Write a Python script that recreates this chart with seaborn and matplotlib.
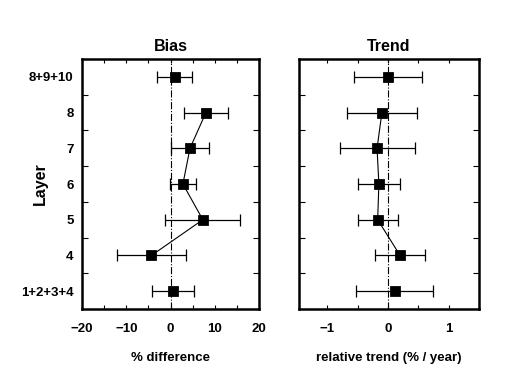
import numpy as np
import pandas as pd
import seaborn as sns
import matplotlib.pyplot as plt
from matplotlib.ticker import MultipleLocator

# layers from bottom to top
layers = ['1+2+3+4', '4', '5', '6', '7', '8', '8+9+10']

bias = [0.6, -4.3, 7.3, 2.8, 4.4, 8.0, 0.9]
bias_err = [4.75, 7.9, 8.5, 3.0, 4.3, 5.0, 3.9]

trend = [0.11, 0.20, -0.17, -0.15, -0.18, -0.10, 0.0]
trend_err = [0.63, 0.41, 0.33, 0.35, 0.62, 0.58, 0.56]

# only the single layers 4..8 are joined by a line
joined = ['4', '5', '6', '7', '8']

sns.set_style('ticks', {'axes.edgecolor': 'black', 'xtick.color': 'black',
                        'ytick.color': 'black', 'text.color': 'black',
                        'axes.labelcolor': 'black'})
plt.rcParams['font.family'] = ['Liberation Sans', 'DejaVu Sans']
plt.rcParams['font.weight'] = 'bold'

df = pd.DataFrame({'layer': layers, 'pos': np.arange(len(layers)),
                   'bias': bias, 'bias_err': bias_err,
                   'trend': trend, 'trend_err': trend_err})
line_df = df[df['layer'].isin(joined)]

fig = plt.figure(figsize=(5.11, 3.9), dpi=100)
ax1 = fig.add_axes([0.1605, 0.2077, 0.3464, 0.641])
ax2 = fig.add_axes([0.585, 0.2077, 0.352, 0.641])


def draw_panel(ax, col, err, title, xlabel, xlim, major, minor):
    ax.axvline(0, color='black', lw=0.8, ls='-.', zorder=1)
    ax.errorbar(df[col], df['pos'], xerr=df[err], fmt='none', ecolor='black',
                elinewidth=0.9, capsize=4, capthick=0.9, zorder=2)
    sns.lineplot(data=line_df, x=col, y='pos', sort=False, estimator=None,
                 color='black', lw=0.8, ax=ax, zorder=3)
    sns.scatterplot(data=df, x=col, y='pos', marker='s', s=50, color='black',
                    edgecolor='black', ax=ax, zorder=4)
    ax.set_xlim(*xlim)
    ax.set_ylim(-0.5, len(layers) - 0.5)
    ax.xaxis.set_major_locator(MultipleLocator(major))
    ax.xaxis.set_minor_locator(MultipleLocator(minor))
    ax.set_yticks(np.arange(len(layers)))
    ax.set_yticks(np.arange(0.5, len(layers) - 1), minor=True)
    ax.tick_params(axis='x', which='both', direction='in', top=True,
                   length=3, width=0.8, labelsize=9.5, pad=10)
    ax.tick_params(axis='y', which='major', length=0, labelsize=9.5, pad=6)
    ax.tick_params(axis='y', which='minor', direction='in', left=True,
                   right=True, length=4, width=0.8)
    for sp in ax.spines.values():
        sp.set_linewidth(1.8)
        sp.set_color('black')
        sp.set_visible(True)
    ax.set_title(title, fontsize=11.5, fontweight='bold', pad=6)
    ax.set_xlabel(xlabel, fontsize=9.5, fontweight='bold', labelpad=12)


draw_panel(ax1, 'bias', 'bias_err', 'Bias', '% difference', (-20, 20), 10, 5)
draw_panel(ax2, 'trend', 'trend_err', 'Trend', 'relative trend (% / year)',
           (-1.47, 1.5), 1, 0.5)

ax1.set_yticklabels(layers)
ax1.set_ylabel('Layer', fontsize=11.5, fontweight='bold')
ax1.yaxis.set_label_coords(-0.195, 0.5)
ax2.set_yticklabels([])
ax2.set_ylabel('')

fig.savefig('out.png', dpi=100, facecolor='white')
